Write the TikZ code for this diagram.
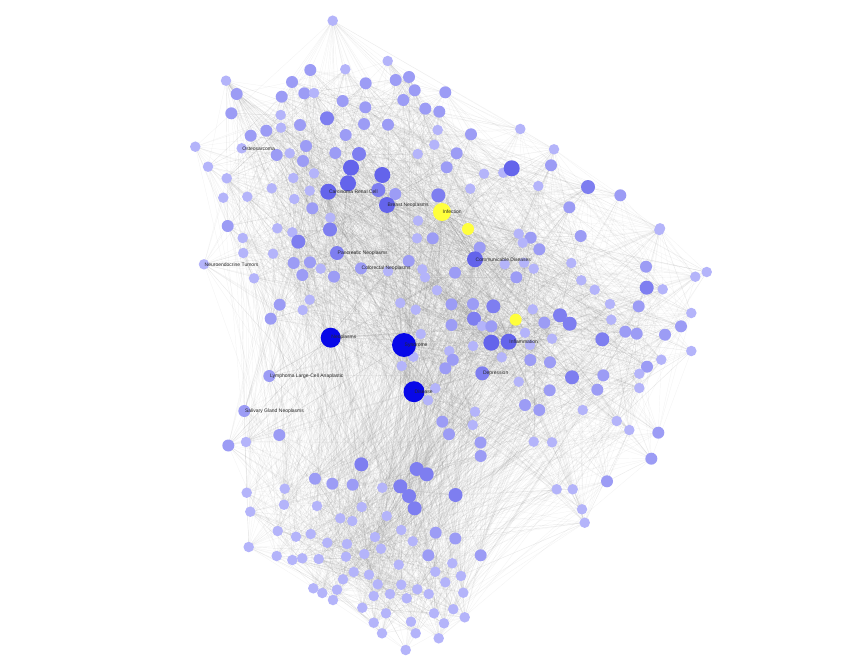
\documentclass[tikz,border=0pt]{standalone}
\usepackage{fontspec}
\newfontfamily\labfont{Liberation Sans}
\pgfdeclarelayer{background}
\pgfsetlayers{background,main}
\definecolor{cl}{RGB}{180,180,250}
\definecolor{cm}{RGB}{156,156,245}
\definecolor{cd}{RGB}{126,126,240}
\definecolor{cD}{RGB}{100,100,235}
\definecolor{cB}{RGB}{8,8,232}
\definecolor{cY}{RGB}{255,255,60}
\definecolor{edgegray}{RGB}{130,130,130}
\tikzset{
  nd/.style={circle,inner sep=0pt,draw=none},
  sl/.style={nd,fill=cl,minimum size=10.5pt},
  sm/.style={nd,fill=cm,minimum size=12pt},
  sd/.style={nd,fill=cd,minimum size=14pt},
  sD/.style={nd,fill=cD,minimum size=16pt},
  sy/.style={nd,fill=cY,minimum size=12pt},
  sY/.style={nd,fill=cY,minimum size=18pt},
  sB/.style={nd,fill=cB,minimum size=20pt},
  edge/.style={draw=edgegray,line width=0.2pt,draw opacity=0.13},
  lbl/.style={font=\labfont\fontsize{5}{6}\selectfont,text=black!85,inner sep=0.5pt,anchor=west}
}
\begin{document}
\begin{tikzpicture}[x=1pt,y=1pt,yscale=-1]
\useasboundingbox (0,0) rectangle (866,663);
\foreach \px/\py/\t [count=\i] in {
332.7/20.7/l, 387.7/61/l, 310.3/70/m, 345.3/69.3/l, 226/80.7/l, 292/82/m, 365.7/83.3/m, 395.7/80/m, 409/77/m, 236.7/94/m,
281.7/96.7/m, 304.3/93.3/m, 314/93/l, 414.7/90.3/m, 445.3/92.3/m, 342.7/101/m, 403.3/100/m, 231.3/113.3/m, 280.7/115/l, 365.3/107.3/m,
425.3/108.7/m, 439.3/111.7/m, 327/118.3/d, 281/127.7/l, 300/125/m, 364/124/m, 388/124.7/m, 437.7/130/l, 266.3/130.7/m, 250.7/135.7/m,
345.7/135/m, 195.3/146.7/l, 241.7/148.3/l, 306/146/m, 434.3/144.7/l, 276.7/155/m, 289.7/153.3/l, 335.3/153/m, 359/154/d, 417.7/154/l,
456.7/153.3/m, 208/166.7/l, 303/161/m, 351/167.7/D, 446.7/167.3/m, 226.7/178.3/l, 314/173.3/l, 382.3/175/D, 293.3/178/l, 348/183.3/D,
395.3/194/m, 438.3/195.3/d, 223.3/197.7/l, 247.3/196.7/l, 271.7/188.3/l, 309.7/190.7/l, 328.3/191.7/D, 378.3/190/d, 387/205/D, 294.3/199/l,
312.3/208.3/m, 442/212/Y, 418/220.7/l, 227.7/226/m, 330.3/217.7/l, 277.3/228.3/l, 330/229.5/d, 520.3/129/l, 471/134.3/m, 554/149.3/l,
484/173.7/l, 503.3/172.7/l, 511.7/168.3/D, 551/165.3/m, 470.3/188.7/l, 538.3/186/l, 588/187/d, 620.3/195.3/m, 569.3/207.3/m, 660/228.3/l,
468/229/y, 292.3/232.3/l, 242.7/238/l, 298.3/241.7/d, 417/238.3/l, 432.7/238.3/m, 243.3/253/l, 273/253.7/l, 337/253/d, 408.7/261/m,
204/264.3/l, 293.7/263/m, 310/262.3/m, 320.7/268.7/l, 302.3/275/m, 334/276.7/m, 361/268.3/m, 388/271.3/l, 422.3/269.3/l, 425/277.3/l,
455/272.7/m, 254/278.3/l, 437/290.3/l, 309.7/299.7/l, 279.7/304.7/m, 400.3/303/l, 451.5/304.3/m, 270.7/318.7/m, 302.7/310/l, 415.7/309.7/l,
451.5/325/m, 330.7/337.7/B, 420.7/334/l, 404/345/B, 449.3/351/l, 452.8/359.8/m, 413.3/356.7/l, 401.7/366/l, 445.3/368.3/m, 269.3/376/m,
414/391.7/B, 435.3/388.3/l, 428/400.3/l, 244.3/411/m, 442.3/421.7/m, 449/434.2/m, 279.3/435/m, 246/442/l, 228.3/445.5/m, 518.7/233.7/l,
530.7/237.7/m, 580.7/236/m, 659.3/230/l, 522.7/242.7/l, 479.7/247.7/m, 539.3/249.3/m, 475/259.3/D, 504.7/264.3/l, 524/262.7/l, 533.7/268.7/l,
571.3/263/l, 516.3/277.3/m, 646/266.7/m, 706.7/272/l, 695.3/276.7/l, 581.3/280.3/l, 594.7/289.7/l, 646.7/287.7/d, 662.7/289.3/l, 610/304/l,
638.7/306.3/m, 691.3/313/l, 473/304/m, 493.3/306.3/d, 532.7/309.3/l, 474/318.7/d, 515.7/319.7/y, 560/315.3/d, 569.7/323.7/d, 544.3/322.7/m,
611.3/319.7/l, 482/326/l, 491.3/326.3/m, 525/332.7/l, 625.3/331.7/m, 636.7/333.7/m, 665/334.7/m, 681/326.3/m, 491.3/342.7/D, 508.7/341.7/D,
602.3/339.3/d, 552/338.7/l, 473/346/l, 530/345/l, 691.3/351/l, 501.7/357.3/l, 530.3/360/m, 550/362.3/m, 661.3/359.7/l, 482.3/373.3/d,
647/366.7/m, 639.3/373.7/l, 572/377.3/d, 603.3/375.3/m, 518.7/381.7/l, 549.7/390.3/m, 597.3/389.7/m, 639.3/388/l, 525/405/m, 539.3/410/m,
582.7/410/l, 475/411.7/l, 472.7/425/l, 616.7/421/l, 629.3/430/l, 658.3/432.7/m, 480.5/442.5/m, 533.7/441.7/l, 552/442.3/l, 361.3/464.3/d,
416.7/469/d, 426.7/474.3/d, 315/478.7/m, 332.3/483.7/m, 352.7/484.7/m, 382.3/487.7/l, 400.3/486.3/d, 409/496/d, 455.5/495/d, 284.7/488.7/l,
246.7/492.7/l, 284/504.7/l, 317/506/l, 361.7/507/l, 414.7/508.3/d, 250.3/511.7/l, 340.3/518.3/l, 352.3/521/l, 386.7/516/l, 277.7/531/l,
296/536.7/l, 310.7/534/l, 401.3/530/l, 435.7/532.7/m, 375/537/l, 327.3/542.7/l, 347/544/l, 381/548.7/l, 412.7/541.3/l, 455.3/538.5/m,
248.7/547/l, 276.7/556/l, 292.3/560/l, 302.3/558.3/l, 318.7/559/l, 346/556.7/l, 364.3/554/l, 428.3/555.3/m, 452.3/563.3/l, 398.7/564.7/l,
353.7/572/l, 369/574.7/l, 435.3/571.7/l, 343/579.3/l, 445.3/582.3/l, 377.7/584.3/l, 401.3/584.7/l, 417.3/589.3/l, 313.3/588.3/l, 322.3/593/l,
337/589.7/l, 428.7/594/l, 373.7/596/l, 390/594/l, 406.7/598.3/l, 333/600/l, 453.3/609.2/l, 362.3/607.7/l, 386/613.3/l, 434/613.3/l,
411/621.7/l, 444/623.3/l, 373.7/622.7/l, 382/633.3/l, 415.7/633.3/l, 438.7/638.3/l, 405.7/650/l, 480.7/456/m, 651.3/458.7/m, 607/481.3/m,
556.7/489.3/l, 572.7/489.3/l, 582/509.3/l, 584.7/522.7/l, 480.7/555.3/m, 461/576/l, 463.3/592.7/l, 464.7/617.3/l}{
  \node[s\t] (n\i) at (\px,\py) {};
}
% special sizes for the two largest hubs
\node[sB,minimum size=24pt] (syn) at (n114.center) {};
\node[sB,minimum size=21pt] (dis) at (n121.center) {};
% edges
\pgfmathsetseed{4242}
\begin{pgfonlayer}{background}
\fill[white] (0,0) rectangle (866,663);
\foreach \k in {1,...,14000}{
  \pgfmathrandominteger{\a}{1}{278}
  \pgfmathrandominteger{\b}{1}{278}
  \pgfpointdiff{\pgfpointanchor{n\a}{center}}{\pgfpointanchor{n\b}{center}}
  \pgfgetlastxy{\dx}{\dy}
  \pgfmathtruncatemacro{\ok}{rnd<exp(-veclen(\dx,\dy)/170)}
  \ifnum\ok=1 \draw[edge] (n\a.center) -- (n\b.center);\fi
}
\foreach \h in {112,114,121,62,137,170,59,57}{
  \foreach \k in {1,...,70}{
    \pgfmathrandominteger{\b}{1}{278}
    \draw[edge] (n\h.center) -- (n\b.center);
  }
}
\end{pgfonlayer}
% labels
\node[lbl] (t1) at (n33.center) {Osteosarcoma};
\node[lbl] (t2) at (n57.center) {Carcinoma Renal Cell};
\node[lbl] (t3) at (n59.center) {Breast Neoplasms};
\node[lbl] (t4) at (n62.center) {Infection};
\node[lbl] (t5) at (n89.center) {Pancreatic Neoplasms};
\node[lbl] (t6) at (n91.center) {Neuroendocrine Tumors};
\node[lbl] (t7) at (n97.center) {Colorectal Neoplasms};
\node[lbl] (t8) at (n137.center) {Communicable Diseases};
\node[lbl] (t9) at (n112.center) {Neoplasms};
\node[lbl] (t10) at (n114.center) {Syndrome};
\node[lbl] (t11) at (n120.center) {Lymphoma Large-Cell Anaplastic};
\node[lbl] (t12) at (n124.center) {Salivary Gland Neoplasms};
\node[lbl] (t13) at (n121.center) {Disease};
\node[lbl] (t14) at (n170.center) {Inflammation};
\node[lbl] (t15) at (n180.center) {Depression};
\end{tikzpicture}
\end{document}
